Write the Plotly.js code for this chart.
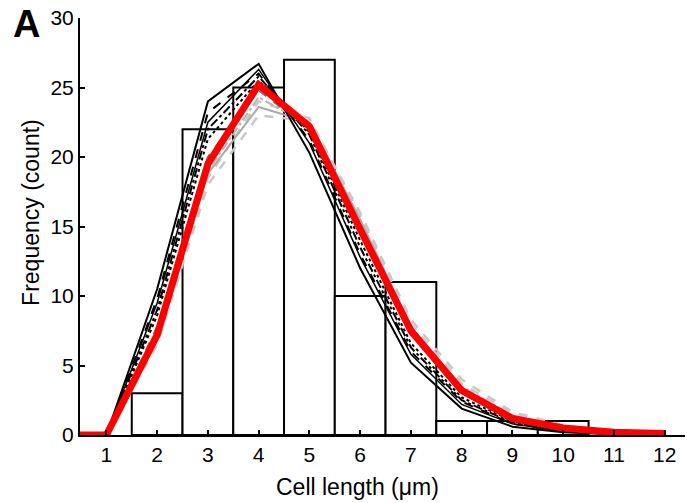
<!DOCTYPE html>
<html>
<head>
<meta charset="utf-8">
<script src="https://cdn.plot.ly/plotly-3.0.1.min.js"></script>
<style>
html,body{margin:0;padding:0;background:#fff}
#chart{width:687px;height:503px}
</style>
</head>
<body>
<div id="chart"></div>
<script>
// Histogram data
const binCenters = [2, 3, 4, 5, 6, 7, 8, 9, 10];
const counts = [3, 22, 25, 27, 10, 11, 1, 1, 1];

// Fitted curves (evaluated at integer cell lengths)
const curveX = [0, 1, 2, 3, 4, 5, 6, 7, 8, 9, 10, 11, 12];
const fitBlackA = [0, 0, 10.5, 24.0, 26.7, 20.3, 12.0, 5.2, 1.9, 0.6, 0.2, 0.05, 0];
const fitBlackB = [0, 0, 9.5, 22.5, 26.3, 21.0, 12.8, 5.8, 2.2, 0.8, 0.25, 0.08, 0.02];
const fitBlackC = [0, 0, 9.8, 23.2, 26.0, 21.2, 13.0, 6.0, 2.4, 0.8, 0.3, 0.1, 0.02];
const fitBlackD = [0, 0, 9.0, 22.0, 25.8, 21.6, 13.5, 6.3, 2.5, 0.9, 0.3, 0.1, 0.03];
const fitBlackE = [0, 0, 8.6, 21.3, 25.5, 21.8, 14.0, 6.6, 2.7, 1.0, 0.35, 0.1, 0.03];
const fitGrayF = [0, 0, 7.8, 20.0, 24.8, 22.0, 14.6, 7.2, 3.0, 1.1, 0.4, 0.12, 0.04];
const fitGrayG = [0, 0, 7.0, 18.8, 23.6, 22.5, 15.5, 7.8, 3.4, 1.3, 0.45, 0.15, 0.05];
const fitGrayH = [0, 0, 6.5, 18.0, 23.0, 22.6, 16.0, 8.3, 4.0, 1.65, 0.7, 0.2, 0.06];
const fitGrayI = [0, 0, 6.8, 18.5, 24.0, 22.8, 15.8, 8.0, 3.7, 1.5, 0.55, 0.18, 0.05];
const fitGrayJ = [0, 0, 7.2, 19.0, 24.3, 22.3, 15.2, 7.6, 3.5, 1.4, 0.5, 0.15, 0.04];
const fitRed = [0, 0, 7.2, 19.5, 25.2, 22.2, 14.8, 7.5, 3.2, 1.2, 0.5, 0.2, 0.1];

const xTicks = [1, 2, 3, 4, 5, 6, 7, 8, 9, 10, 11, 12];
const yTicks = [0, 5, 10, 15, 20, 25, 30];
const xTitle = 'Cell length (μm)';
const yTitle = 'Frequency (count)';
const panelLabel = 'A';

const FONT = 'Liberation Sans, Arial, sans-serif';

function fit(y, color, dash, width) {
  return {x: curveX, y: y, type: 'scatter', mode: 'lines',
    line: {color: color, dash: dash, width: width}, hoverinfo: 'skip', showlegend: false};
}

const traces = [
  {x: binCenters, y: counts, type: 'bar', width: 1,
   marker: {color: 'rgba(255,255,255,1)', line: {color: '#000', width: 2}}, showlegend: false},
  fit(fitGrayH, '#c8c8c8', 'dash', 2.5),
  fit(fitGrayI, '#c8c8c8', 'dash', 2.5),
  fit(fitGrayJ, '#b4b4b4', 'dashdot', 2),
  fit(fitGrayG, '#aaaaaa', 'solid', 2),
  fit(fitGrayF, '#707070', 'dash', 2),
  fit(fitBlackE, '#000', 'dot', 2),
  fit(fitBlackD, '#000', 'dashdot', 2),
  fit(fitBlackC, '#000', 'dash', 2),
  fit(fitBlackB, '#000', 'solid', 1.5),
  fit(fitBlackA, '#000', 'solid', 2),
  fit(fitRed, '#ff0000', 'solid', 7)
];

const layout = {
  width: 687, height: 503,
  margin: {l: 80, r: 2, t: 18, b: 68},
  paper_bgcolor: '#fff', plot_bgcolor: '#fff',
  font: {family: FONT, size: 21, color: '#000'},
  bargap: 0,
  xaxis: {
    range: [0.48, 12.4], tickvals: xTicks, ticktext: xTicks.map(String),
    showgrid: false, zeroline: false, showline: true, linecolor: '#000', linewidth: 2,
    ticks: 'inside', ticklen: 5, tickwidth: 2, tickcolor: '#000',
    tickfont: {size: 21, family: FONT}
  },
  yaxis: {
    range: [0, 30], tickvals: yTicks,
    showgrid: false, zeroline: false, showline: true, linecolor: '#000', linewidth: 2,
    ticks: 'inside', ticklen: 5, tickwidth: 2, tickcolor: '#000',
    tickfont: {size: 21, family: FONT}
  },
  annotations: [
    {text: '<b>' + panelLabel + '</b>', xref: 'paper', yref: 'paper', x: -0.089, y: 0.986,
     xanchor: 'center', yanchor: 'middle', showarrow: false,
     font: {size: 38, family: FONT, color: '#000'}},
    {text: xTitle, xref: 'paper', yref: 'paper', x: 0.458, y: -0.1247,
     xanchor: 'center', yanchor: 'middle', showarrow: false,
     font: {size: 23, family: FONT, color: '#000'}},
    {text: yTitle, xref: 'paper', yref: 'paper', x: -0.081, y: 0.535, textangle: -90,
     xanchor: 'center', yanchor: 'middle', showarrow: false,
     font: {size: 23, family: FONT, color: '#000'}}
  ]
};

Plotly.newPlot('chart', traces, layout, {displayModeBar: false, staticPlot: true});
</script>
</body>
</html>
